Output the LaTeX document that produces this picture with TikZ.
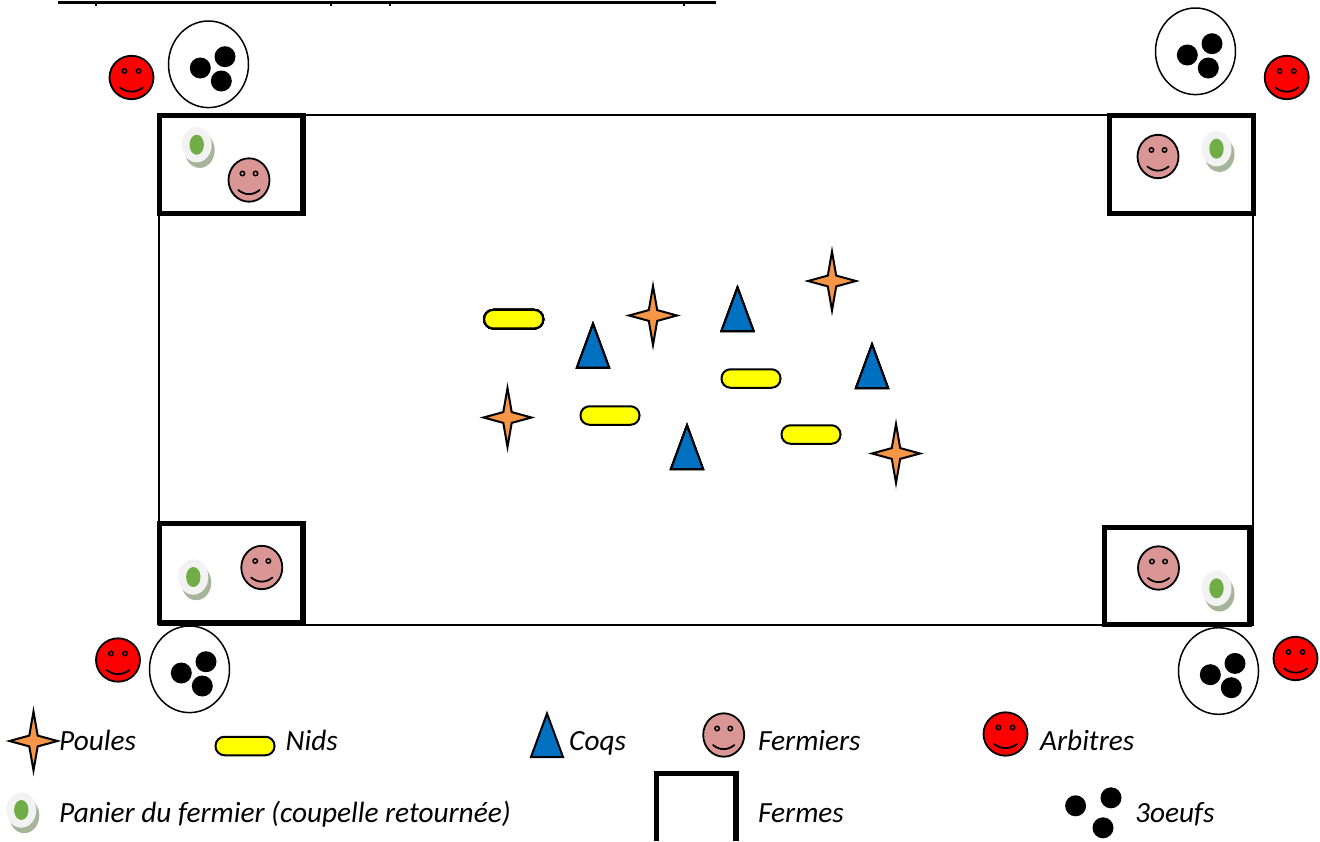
\documentclass[tikz,border=0pt]{standalone}
\usepackage{fontspec}
\setmainfont{Carlito}
\usetikzlibrary{
  shapes.geometric
  }

\definecolor{poulecolor}{HTML}{F79646}
\definecolor{coqcolor}{HTML}{0070C0}
\definecolor{nidcolor}{HTML}{FFFF00}
\definecolor{fermiercolor}{HTML}{D99694}
\definecolor{paniercolor}{HTML}{F2F2F2}
\definecolor{ombrecolor}{HTML}{A6B59A}
\definecolor{fondcolor}{HTML}{70AD47}

% x, y, colour, half width
\newcommand{\visage}[4]{
  \begin{scope}[shift={(#1,#2)}]
    \draw[trait, line width=1.8pt, fill=#3] (0,0) ellipse [x radius=#4, y radius=21.7];
    \draw[trait, line width=1.5pt] (-0.32*#4,-6.5) circle [radius=2.2];
    \draw[trait, line width=1.5pt] (0.32*#4,-6.5) circle [radius=2.2];
    \draw[trait, line width=1.8pt, line cap=round] (-0.52*#4,10) .. controls (-0.2*#4,15.5) and (0.2*#4,15.5) .. (0.52*#4,10);
  \end{scope}
}
% x, y
\newcommand{\panier}[2]{
  \begin{scope}[shift={(#1,#2)}]
    \fill[ombrecolor] (3,5.5) ellipse [x radius=15, y radius=17.7];
    \fill[paniercolor] (0,0) ellipse [x radius=15, y radius=17.7];
    \fill[fondcolor] (0,0) ellipse [x radius=7.2, y radius=10];
  \end{scope}
}
% x, y
\newcommand{\poule}[2]{
  \draw[trait, line width=2pt, miter limit=20, fill=poulecolor, shift={(#1,#2)}]
    (0,-29.5) -- (4.2,-5.4) -- (24,0) -- (4.2,5.4) -- (0,29.5)
    -- (-4.2,5.4) -- (-24,0) -- (-4.2,-5.4) -- cycle;
}
% x, y (middle of the base)
\newcommand{\coq}[2]{
  \draw[trait, line width=2pt, miter limit=20, fill=coqcolor, shift={(#1,#2)}]
    (-16,0) -- (0,-43.5) -- (16,0) -- cycle;
}
% x, y (middle of the circle)
\newcommand{\oeufs}[2]{
  \begin{scope}[shift={(#1,#2)}]
    \draw[trait, fill=white] (0,0) ellipse [x radius=40, y radius=43.3];
    \fill (-8.2,3.7) circle [radius=10.5];
    \fill (16.5,-7.6) circle [radius=10.5];
    \fill (12.8,16.7) circle [radius=10.5];
  \end{scope}
}

\begin{document}
\begin{tikzpicture}[x=1pt, y=-1pt]
  \tikzstyle{every node}=[font=\fontsize{29.3}{34}\selectfont\itshape, anchor=base west, inner sep=0pt]
  \tikzstyle{trait}=[draw=black, line width=1.5pt]
  \tikzstyle{ferme}=[draw=black, line width=5.2pt, miter limit=10]
  \tikzstyle{nid}=[draw=black, line width=2pt, fill=nidcolor, rectangle, rounded corners=9pt,
    minimum width=59pt, minimum height=18.5pt, anchor=center]
  \useasboundingbox (0,0) rectangle (1320,841);
  %
  % title line, cut by the top of the page
  \draw[line width=3pt] (58,2.5) -- (716,2.5);
  \foreach \x in {96,331,390,684}
    \draw[line width=2.5pt] (\x,2.5) -- (\x,5.5);
  %
  % field and farms
  \draw[trait] (159,115) rectangle (1253,625);
  \draw[ferme] (159.5,115.5) rectangle (303,213.5);
  \draw[ferme] (1109.5,115.5) rectangle (1253.5,213.5);
  \draw[ferme] (159.5,523.5) rectangle (303,622.5);
  \draw[ferme] (1104.5,527.5) rectangle (1249.5,624.5);
  %
  % corners
  \visage{131.5}{77.5}{red}{22}
  \visage{1286.7}{77.5}{red}{22}
  \visage{118}{660}{red}{22}
  \visage{1295.5}{658.5}{red}{22}
  \visage{249}{180}{fermiercolor}{20.5}
  \visage{1158}{156.5}{fermiercolor}{20.5}
  \visage{261.8}{567.5}{fermiercolor}{20.5}
  \visage{1158.5}{568}{fermiercolor}{20.5}
  \panier{196.7}{144.7}
  \panier{1216.5}{148.7}
  \panier{193.3}{577}
  \panier{1216.5}{588.3}
  \oeufs{208.5}{64.3}
  \oeufs{1195.5}{51.3}
  \oeufs{189.5}{669.3}
  \oeufs{1218.5}{671}
  %
  % middle of the field
  \foreach \x/\y in {653/315.5, 832/281, 507.5/417.5, 896/453.5}
    \poule{\x}{\y}
  \foreach \x/\y in {593/367.5, 737.5/331, 872/388, 687/469}
    \coq{\x}{\y}
  \node[nid] (nid1) at (513.7,319.2) {};
  \node[nid] (nid2) at (610,415.5) {};
  \node[nid] (nid3) at (751,378.5) {};
  \node[nid] (nid4) at (811,434.5) {};
  %
  % legend
  \poule{33.5}{741}
  \node (poules) at (59,750) {Poules};
  \node[nid] (nid5) at (245,746) {};
  \node (nids) at (285.5,750) {Nids};
  \coq{547}{757}
  \node (coqs) at (569,750) {Coqs};
  \visage{723.7}{735}{fermiercolor}{20.5}
  \node (fermiers) at (758,750) {Fermiers};
  \visage{1005.5}{734}{red}{22}
  \node (arbitres) at (1040,750) {Arbitres};
  \panier{21.3}{810}
  \node (panier) at (59,822) {Panier du fermier (coupelle retournée)};
  \draw[ferme, line width=5.6pt] (656.5,841) -- (656.5,773.5) -- (736,773.5) -- (736,841);
  \node (fermes) at (758,822) {Fermes};
  \fill (1075.6,805.8) circle [radius=10.5];
  \fill (1111,797.8) circle [radius=10.5];
  \fill (1103,827.8) circle [radius=10.5];
  \node (troisoeufs) at (1135,822) {3oeufs};
\end{tikzpicture}
\end{document}
